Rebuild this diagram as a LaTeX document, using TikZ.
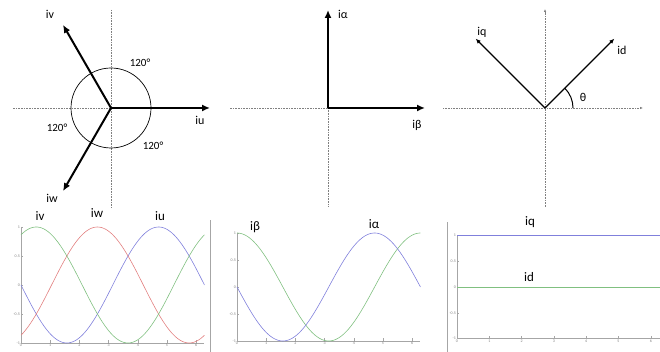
\documentclass[tikz,border=0pt]{standalone}
\usepackage{fontspec}
\setmainfont{Carlito}
\usetikzlibrary{arrows.meta,calc}
\definecolor{wblue}{RGB}{128,128,220}
\definecolor{wred}{RGB}{226,128,128}
\definecolor{wgreen}{RGB}{128,192,128}
\tikzset{
  >=Latex,
  vec/.style={line width=2pt,-{Latex[length=8pt,width=7pt]}},
  thinvec/.style={line width=1.2pt,-{Latex[length=5pt,width=4.5pt]}},
  axisdot/.style={gray,densely dotted,line width=0.6pt},
}

\begin{document}
\begin{tikzpicture}[x=1pt,y=1pt,
  lbl/.style={font=\fontsize{12}{12}\selectfont,inner sep=0pt},
  ang/.style={font=\fontsize{11}{11}\selectfont,inner sep=0pt},
  wlbl/.style={font=\fontsize{13}{13}\selectfont,inner sep=0pt},
  tick/.style={font=\fontsize{4}{4}\selectfont,text=gray,inner sep=1pt},
  frame/.style={gray!70,line width=0.4pt},
  wave/.style={line width=0.6pt,samples=90,smooth,domain=0:6.283},
]
\useasboundingbox (0,0) rectangle (660,352);

% three phase vectors
\coordinate (o1) at (111,244);
\coordinate (u) at (210,244);
\coordinate (v) at ($(o1)+(120:96)$);
\coordinate (w) at ($(o1)+(240:96)$);
\draw[axisdot] (o1) ++(0,98) -- ++(0,-197);
\draw[axisdot] (o1) -- ++(-98,0);
\draw[line width=0.7pt] (o1) circle (40);
\draw[vec] (o1) -- (u);
\draw[vec] (o1) -- (v);
\draw[vec] (o1) -- (w);
\node[lbl] (ulbl) at (200,232) {iu};
\node[lbl] (vlbl) at (50,338) {iv};
\node[lbl] (wlbl) at (52,154) {iw};
\node[ang] (a1) at (140,289) {120°};
\node[ang] (a2) at (57,224) {120°};
\node[ang] (a3) at (153,206) {120°};

% alpha-beta frame
\coordinate (o2) at (328,244);
\coordinate (al) at (328,342);
\coordinate (be) at (425,244);
\draw[axisdot] (o2) -- ++(-98,0);
\draw[axisdot] (o2) -- ++(0,-99);
\draw[vec] (o2) -- (al);
\draw[vec] (o2) -- (be);
\node[lbl] (allbl) at (343,338) {iα};
\node[lbl] (belbl) at (417,227) {iβ};

% d-q frame
\coordinate (o3) at (545,244);
\coordinate (q) at ($(o3)+(135:98)$);
\coordinate (d) at ($(o3)+(45:98)$);
\draw[axisdot,-{Latex[length=3pt,width=2.5pt]}] (443,244) -- (643,244);
\draw[axisdot,-{Latex[length=3pt,width=2.5pt]}] (545,145) -- (545,343);
\draw[thinvec] (o3) -- (q);
\draw[thinvec] (o3) -- (d);
\draw[line width=1pt] ($(o3)+(28,0)$) arc (0:45:28);
\node[lbl] (qlbl) at (482,320) {iq};
\node[lbl] (dlbl) at (622,302) {id};
\node[lbl] (th) at (583,255) {θ};

% waveforms uvw
\draw[frame] (210,0) -- (210,132);
\begin{scope}[shift={(21,67)},x=29.2pt,y=58pt]
  \draw[frame] (0,1) -- (0,-1) -- (6.283,-1);
  \foreach \k in {0,...,6} {
    \draw[frame] (\k,-1) -- ++(0,2.5pt);
    \node[tick,below] at (\k,-1) {\k};
  }
  \foreach \v/\t in {1/1,0.5/0.5,0/0,-0.5/-0.5,-1/-1} {
    \draw[frame] (0,\v) -- ++(2pt,0);
    \node[tick,left] at (0,\v) {\t};
  }
  \draw[wave,wblue] plot (\x,{-sin(\x r)});
  \draw[wave,wred] plot (\x,{-sin(\x r+120)});
  \draw[wave,wgreen] plot (\x,{-sin(\x r-120)});
\end{scope}
\node[wlbl] (pv) at (40,136) {iv};
\node[wlbl] (pw) at (97,139) {iw};
\node[wlbl] (pu) at (160,136) {iu};

% waveforms alpha-beta
\begin{scope}[shift={(237,65)},x=29.2pt,y=54pt]
  \draw[frame] (0,1) -- (0,-1) -- (6.283,-1);
  \foreach \k in {0,...,6} {
    \draw[frame] (\k,-1) -- ++(0,2.5pt);
    \node[tick,below] at (\k,-1) {\k};
  }
  \foreach \v/\t in {1/1,0.5/0.5,0/0,-0.5/-0.5,-1/-1} {
    \draw[frame] (0,\v) -- ++(2pt,0);
    \node[tick,left] at (0,\v) {\t};
  }
  \draw[wave,wgreen] plot (\x,{cos(\x r)});
  \draw[wave,wblue] plot (\x,{-sin(\x r)});
\end{scope}
\node[wlbl] (pb) at (255,125) {iβ};
\node[wlbl] (pa) at (374,128) {iα};

% waveforms d-q
\draw[frame] (447,0) -- (447,130);
\begin{scope}[shift={(457,65)},x=32.3pt,y=51.5pt]
  \draw[frame] (0,1) -- (0,-1) -- (6.283,-1);
  \foreach \k in {0,...,6} {
    \draw[frame] (\k,-1) -- ++(0,2.5pt);
    \node[tick,below] at (\k,-1) {\k};
  }
  \foreach \v/\t in {1/1,0.5/0.5,0/0,-0.5/-0.5,-1/-1} {
    \draw[frame] (0,\v) -- ++(2pt,0);
    \node[tick,left] at (0,\v) {\t};
  }
  \draw[line width=0.8pt,wblue] (0,1) -- (6.283,1);
  \draw[line width=0.8pt,wgreen] (0,0) -- (6.283,0);
\end{scope}
\node[wlbl] (pq) at (530,130) {iq};
\node[wlbl] (pd) at (529,75) {id};
\end{tikzpicture}
\end{document}
